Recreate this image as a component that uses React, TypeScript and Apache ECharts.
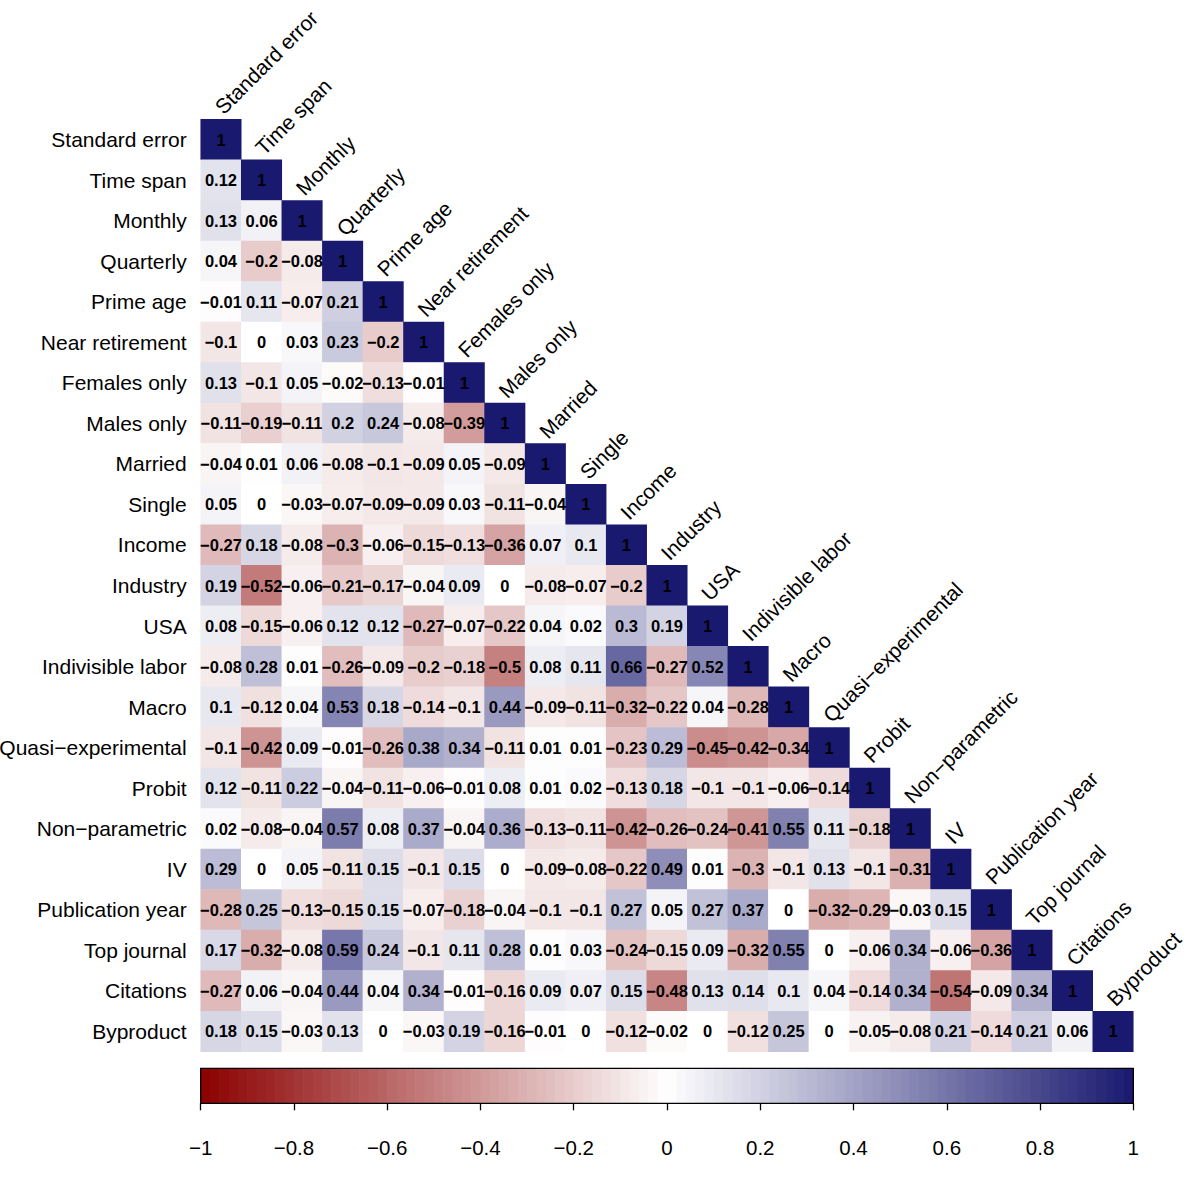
import React, { useEffect, useRef } from "react";
import * as echarts from "echarts";

const variables = [
  "Standard error", "Time span", "Monthly", "Quarterly", "Prime age",
  "Near retirement", "Females only", "Males only", "Married", "Single",
  "Income", "Industry", "USA", "Indivisible labor", "Macro",
  "Quasi\u2212experimental", "Probit", "Non\u2212parametric", "IV",
  "Publication year", "Top journal", "Citations", "Byproduct",
];

// lower triangle, row i holds the correlations with variables 0..i
const corrRows = [
  [1],
  [0.12, 1],
  [0.13, 0.06, 1],
  [0.04, -0.2, -0.08, 1],
  [-0.01, 0.11, -0.07, 0.21, 1],
  [-0.1, 0, 0.03, 0.23, -0.2, 1],
  [0.13, -0.1, 0.05, -0.02, -0.13, -0.01, 1],
  [-0.11, -0.19, -0.11, 0.2, 0.24, -0.08, -0.39, 1],
  [-0.04, 0.01, 0.06, -0.08, -0.1, -0.09, 0.05, -0.09, 1],
  [0.05, 0, -0.03, -0.07, -0.09, -0.09, 0.03, -0.11, -0.04, 1],
  [-0.27, 0.18, -0.08, -0.3, -0.06, -0.15, -0.13, -0.36, 0.07, 0.1, 1],
  [0.19, -0.52, -0.06, -0.21, -0.17, -0.04, 0.09, 0, -0.08, -0.07, -0.2, 1],
  [0.08, -0.15, -0.06, 0.12, 0.12, -0.27, -0.07, -0.22, 0.04, 0.02, 0.3, 0.19, 1],
  [-0.08, 0.28, 0.01, -0.26, -0.09, -0.2, -0.18, -0.5, 0.08, 0.11, 0.66, -0.27, 0.52, 1],
  [0.1, -0.12, 0.04, 0.53, 0.18, -0.14, -0.1, 0.44, -0.09, -0.11, -0.32, -0.22, 0.04, -0.28, 1],
  [-0.1, -0.42, 0.09, -0.01, -0.26, 0.38, 0.34, -0.11, 0.01, 0.01, -0.23, 0.29, -0.45, -0.42, -0.34, 1],
  [0.12, -0.11, 0.22, -0.04, -0.11, -0.06, -0.01, 0.08, 0.01, 0.02, -0.13, 0.18, -0.1, -0.1, -0.06, -0.14, 1],
  [0.02, -0.08, -0.04, 0.57, 0.08, 0.37, -0.04, 0.36, -0.13, -0.11, -0.42, -0.26, -0.24, -0.41, 0.55, 0.11, -0.18, 1],
  [0.29, 0, 0.05, -0.11, 0.15, -0.1, 0.15, 0, -0.09, -0.08, -0.22, 0.49, 0.01, -0.3, -0.1, 0.13, -0.1, -0.31, 1],
  [-0.28, 0.25, -0.13, -0.15, 0.15, -0.07, -0.18, -0.04, -0.1, -0.1, 0.27, 0.05, 0.27, 0.37, 0, -0.32, -0.29, -0.03, 0.15, 1],
  [0.17, -0.32, -0.08, 0.59, 0.24, -0.1, 0.11, 0.28, 0.01, 0.03, -0.24, -0.15, 0.09, -0.32, 0.55, 0, -0.06, 0.34, -0.06, -0.36, 1],
  [-0.27, 0.06, -0.04, 0.44, 0.04, 0.34, -0.01, -0.16, 0.09, 0.07, 0.15, -0.48, 0.13, 0.14, 0.1, 0.04, -0.14, 0.34, -0.54, -0.09, 0.34, 1],
  [0.18, 0.15, -0.03, 0.13, 0, -0.03, 0.19, -0.16, -0.01, 0, -0.12, -0.02, 0, -0.12, 0.25, 0, -0.05, -0.08, 0.21, -0.14, 0.21, 0.06, 1],
];

const legendTicks = [-1, -0.8, -0.6, -0.4, -0.2, 0, 0.2, 0.4, 0.6, 0.8, 1];
const palette = ["#8B0000", "#FFFFFF", "#191970"];
const legendSteps = 100;

const FONT = "'Liberation Sans', Arial, Helvetica, sans-serif";
const minus = (v: number | string) => String(v).replace(/-/g, "\u2212");

export default function App() {
  const chartRef = useRef<HTMLDivElement>(null);

  useEffect(() => {
    if (!chartRef.current) return;
    const chart = echarts.init(chartRef.current, null, { renderer: "svg" });

    const cells: number[][] = [];
    corrRows.forEach((row, r) => row.forEach((v, c) => cells.push([c, r, v])));

    // colour-key steps across [-1, 1]
    const keySteps: number[][] = [];
    const step = 2 / legendSteps;
    for (let k = 0; k < legendSteps; k++) {
      const mid = -1 + step * (k + 0.5);
      keySteps.push([mid, 0.5, mid]);
    }

    const option = {
      animation: false,
      textStyle: { fontFamily: FONT },
      visualMap: {
        type: "continuous",
        show: false,
        min: -1,
        max: 1,
        dimension: 2,
        seriesIndex: [0, 2],
        inRange: { color: palette },
      },
      grid: [
        { left: 200.7, top: 119.3, width: 932.6, height: 932.4, outerBoundsMode: "none" },
        {
          left: 200.7, top: 1068.3, width: 932.6, height: 35,
          outerBoundsMode: "none",
          show: true, borderColor: "#000", borderWidth: 1.3, z: 10,
          backgroundColor: "transparent",
        },
      ],
      xAxis: [
        {
          type: "category", gridIndex: 0, data: variables,
          axisLine: { show: false }, axisTick: { show: false },
          axisLabel: { show: false }, splitLine: { show: false },
        },
        {
          type: "value", gridIndex: 1, min: -1, max: 1,
          axisLine: { show: false },
          splitLine: { show: false },
          axisTick: {
            show: true, length: 7, customValues: legendTicks,
            lineStyle: { color: "#000", width: 1.3 },
          },
          axisLabel: {
            customValues: legendTicks,
            formatter: (v: number) => minus(v),
            fontSize: 20.5, color: "#000", margin: 34, fontFamily: FONT,
          },
        },
      ],
      yAxis: [
        {
          type: "category", gridIndex: 0, data: variables, inverse: true,
          axisLine: { show: false }, axisTick: { show: false },
          splitLine: { show: false },
          axisLabel: {
            fontSize: 21, color: "#000", margin: 14, fontFamily: FONT,
            padding: [0, 0, 4, 0],
          },
        },
        { type: "value", gridIndex: 1, min: 0, max: 1, show: false },
      ],
      series: [
        {
          type: "heatmap",
          xAxisIndex: 0, yAxisIndex: 0,
          data: cells,
          label: {
            show: true,
            formatter: (p: any) => minus(p.value[2]),
            fontSize: 16.5, fontWeight: "bold", color: "#000", fontFamily: FONT,
          },
          emphasis: { disabled: true },
        },
        {
          type: "custom",
          xAxisIndex: 0, yAxisIndex: 0,
          data: variables.map((_, i) => [i, i]),
          silent: true,
          renderItem: (params: any, api: any) => {
            const p = api.coord([api.value(0), api.value(1)]);
            const size = api.size([1, 1]);
            return {
              type: "text",
              x: p[0] - 2.5,
              y: p[1] - size[1] / 2 - 9,
              rotation: Math.PI / 4,
              style: {
                text: variables[params.dataIndex],
                fontSize: 21, fontFamily: FONT, fill: "#000",
                align: "left", verticalAlign: "middle",
              },
            };
          },
        },
        {
          type: "custom",
          xAxisIndex: 1, yAxisIndex: 1,
          data: keySteps,
          silent: true,
          z: 1,
          renderItem: (params: any, api: any) => {
            const v = api.value(0);
            const a = api.coord([v - step / 2, 1]);
            const b = api.coord([v + step / 2, 0]);
            return {
              type: "rect",
              shape: { x: a[0], y: a[1], width: b[0] - a[0] + 0.6, height: b[1] - a[1] },
              style: { fill: api.visual("color") },
            };
          },
        },
      ],
    };

    chart.setOption(option);
    return () => chart.dispose();
  }, []);

  return (
    <div
      ref={chartRef}
      style={{ position: "absolute", left: 0, top: 0, width: 1200, height: 1177, background: "#fff" }}
    />
  );
}
